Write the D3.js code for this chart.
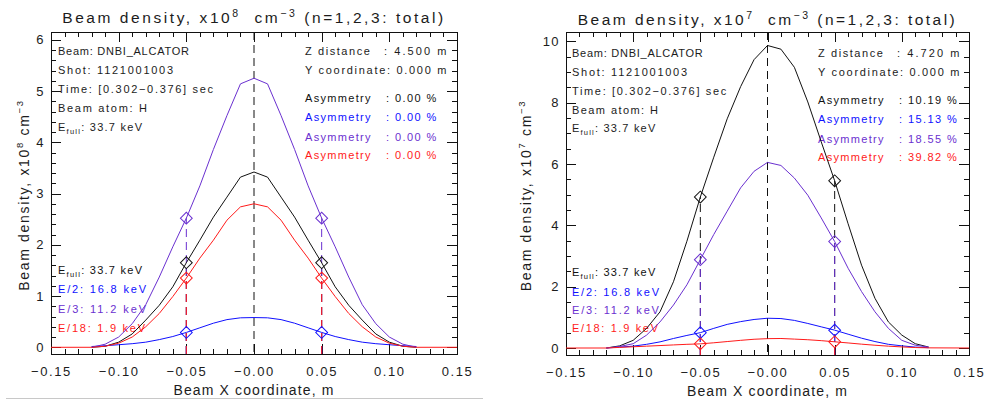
<!DOCTYPE html>
<html>
<head>
<meta charset="utf-8">
<script src="https://cdn.jsdelivr.net/npm/d3@7/dist/d3.min.js"></script>
<style>
  body { margin: 0; background: #fff; }
  svg { display: block; font-family: "Liberation Sans", Arial, sans-serif; }
  text { white-space: pre; }
</style>
</head>
<body>
<svg id="chart" width="991" height="403"></svg>
<script>
// Beam X coordinate samples (m); null where a component is not computed
const xPositions = [-0.15, -0.12, -0.11, -0.10, -0.09, -0.08, -0.07, -0.06, -0.05, -0.04, -0.03, -0.02, -0.01,
                    0.00, 0.01, 0.02, 0.03, 0.04, 0.05, 0.06, 0.07, 0.08, 0.09, 0.10, 0.11, 0.12, 0.15];

// Z = 4.500 m, density in 1e8 cm^-3
const leftFull       = [null, 0.00, 0.02, 0.10, 0.26, 0.53, 0.82, 1.18, 1.65, 2.09, 2.54, 2.93, 3.32, 3.42, 3.32, 2.93, 2.54, 2.09, 1.65, 1.18, 0.82, 0.53, 0.26, 0.10, 0.02, 0.00, null];
const leftHalf       = [null, 0.015, 0.03, 0.05, 0.07, 0.10, 0.15, 0.21, 0.29, 0.38, 0.47, 0.54, 0.575, 0.58, 0.575, 0.54, 0.47, 0.38, 0.29, 0.21, 0.15, 0.10, 0.07, 0.05, 0.03, 0.015, null];
const leftThird      = [null, 0.00, 0.06, 0.20, 0.46, 0.83, 1.37, 1.96, 2.52, 3.15, 3.86, 4.52, 5.14, 5.25, 5.14, 4.52, 3.86, 3.15, 2.52, 1.96, 1.37, 0.83, 0.46, 0.20, 0.06, 0.00, null];
const leftEighteenth = [0, 0.00, 0.02, 0.08, 0.20, 0.40, 0.66, 0.99, 1.35, 1.74, 2.09, 2.48, 2.74, 2.80, 2.74, 2.48, 2.09, 1.74, 1.35, 0.99, 0.66, 0.40, 0.20, 0.08, 0.02, 0.00, 0];

// Z = 4.720 m, density in 1e7 cm^-3
const rightFull       = [null, 0.00, 0.07, 0.25, 0.64, 1.18, 2.16, 3.48, 4.92, 6.22, 7.47, 8.52, 9.40, 9.86, 9.74, 9.15, 8.02, 6.72, 5.45, 4.05, 2.70, 1.62, 0.85, 0.42, 0.14, 0.03, null];
const rightHalf       = [null, 0.00, 0.03, 0.06, 0.12, 0.20, 0.31, 0.41, 0.50, 0.64, 0.77, 0.86, 0.93, 0.97, 0.96, 0.90, 0.80, 0.69, 0.582, 0.45, 0.32, 0.21, 0.12, 0.07, 0.03, 0.01, null];
const rightThird      = [null, 0.00, 0.05, 0.14, 0.42, 0.85, 1.40, 2.06, 2.88, 3.70, 4.46, 5.22, 5.76, 6.05, 5.95, 5.54, 4.98, 4.24, 3.47, 2.60, 1.84, 1.18, 0.64, 0.25, 0.09, 0.03, null];
const rightEighteenth = [0, 0.00, 0.02, 0.04, 0.06, 0.08, 0.10, 0.12, 0.135, 0.17, 0.21, 0.25, 0.285, 0.305, 0.31, 0.29, 0.27, 0.24, 0.202, 0.165, 0.125, 0.09, 0.06, 0.035, 0.015, 0.005, 0];

const seriesColors = ["#111111", "#1010ff", "#6a30d0", "#ff1a1a"];
const energyLabels = ["33.7 keV", "E/2: 16.8 keV", "E/3: 11.2 keV", "E/18: 1.9 keV"];
const leftAsymmetry  = ["0.00", "0.00", "0.00", "0.00"];
const rightAsymmetry = ["10.19", "15.13", "18.55", "39.82"];
const infoLines = ["Beam: DNBI_ALCATOR", "Shot: 1121001003", "Time: [0.302\u22120.376] sec", "Beam atom: H"];
const markerX = [-0.05, 0.05];

const xTicks = [-0.15, -0.10, -0.05, 0.00, 0.05, 0.10, 0.15];
const xTickLabels = ["\u22120.15", "\u22120.10", "\u22120.05", "\u22120.00", "0.05", "0.10", "0.15"];
const leftYTicks = [0, 1, 2, 3, 4, 5, 6];
const rightYTicks = [0, 2, 4, 6, 8, 10];

const TEXT = "#1c1c1c";
const svg = d3.select("#chart");

// stretch a text element to a given advance width via letter spacing
function fit(sel, width) {
  const node = sel.node();
  const n = node.textContent.length;
  const w = node.getComputedTextLength();
  sel.attr("letter-spacing", ((width - w) / Math.max(1, n - 1)).toFixed(2));
  return sel;
}

// text made of runs: kind 0 normal, 1 superscript, -1 subscript
function richText(parent, x, y, parts, size, smallSize, shift, fill) {
  const t = parent.append("text").attr("x", x).attr("y", y)
    .attr("font-size", size).attr("fill", fill || TEXT);
  let cur = 0;
  parts.forEach(([s, kind]) => {
    const target = kind === 1 ? -shift : kind === -1 ? shift * 0.45 : 0;
    t.append("tspan").attr("dy", target - cur)
      .attr("font-size", kind ? smallSize : size).text(s);
    cur = target;
  });
  return t;
}

function drawPanel(p) {
  const g = svg.append("g");
  const x = d3.scaleLinear().domain([-0.15, 0.15]).range([p.left, p.right]);
  const y = d3.scaleLinear().domain(p.yDomain).range([p.bottom, p.top]);
  const series = p.series;

  // title
  const title = richText(g, (p.left + p.right) / 2, p.titleY,
    [["Beam density, x10", 0], [p.exponent, 1], ["  cm", 0], ["\u22123", 1], [" (n=1,2,3: total)", 0]],
    15.5, 10.5, 6);
  title.attr("text-anchor", "middle");
  fit(title, p.titleWidth);

  // axes: majors with labels, minors, mirrored on top/right
  const minorX = d3.range(-15, 16).map(i => i / 100).filter(v => !xTicks.some(t => Math.abs(t - v) < 1e-9));
  const minorY = d3.range(Math.ceil(p.yDomain[0] / p.yMinor), Math.floor(p.yDomain[1] / p.yMinor) + 1)
    .map(i => +(i * p.yMinor).toFixed(6))
    .filter(v => !p.yTicks.some(t => Math.abs(t - v) < 1e-9));

  const axG = g.append("g").attr("shape-rendering", "crispEdges");
  const styleAxis = sel => {
    sel.select(".domain").remove();
    sel.selectAll(".tick line").attr("stroke", "#111");
    sel.selectAll("text").attr("fill", TEXT).attr("font-family", "Liberation Sans, Arial, sans-serif");
  };
  axG.append("g").attr("transform", `translate(0,${p.bottom})`)
    .call(d3.axisBottom(x).tickValues(xTicks).tickSize(-10).tickPadding(13)
      .tickFormat((d, i) => xTickLabels[i]))
    .call(styleAxis)
    .selectAll("text").attr("font-size", 13).attr("letter-spacing", 1.6);
  axG.append("g").attr("transform", `translate(0,${p.bottom})`)
    .call(d3.axisBottom(x).tickValues(minorX).tickSize(-5).tickFormat(""))
    .call(styleAxis);
  axG.append("g").attr("transform", `translate(0,${p.top})`)
    .call(d3.axisTop(x).tickValues(xTicks).tickSize(-10).tickFormat(""))
    .call(styleAxis);
  axG.append("g").attr("transform", `translate(0,${p.top})`)
    .call(d3.axisTop(x).tickValues(minorX).tickSize(-5).tickFormat(""))
    .call(styleAxis);
  axG.append("g").attr("transform", `translate(${p.left},0)`)
    .call(d3.axisLeft(y).tickValues(p.yTicks).tickSize(-10).tickPadding(6).tickFormat(d3.format("d")))
    .call(styleAxis)
    .selectAll("text").attr("font-size", 13).attr("letter-spacing", 1.4);
  axG.append("g").attr("transform", `translate(${p.left},0)`)
    .call(d3.axisLeft(y).tickValues(minorY).tickSize(-5).tickFormat(""))
    .call(styleAxis);
  axG.append("g").attr("transform", `translate(${p.right},0)`)
    .call(d3.axisRight(y).tickValues(p.yTicks).tickSize(-10).tickFormat(""))
    .call(styleAxis);
  axG.append("g").attr("transform", `translate(${p.right},0)`)
    .call(d3.axisRight(y).tickValues(minorY).tickSize(-5).tickFormat(""))
    .call(styleAxis);
  axG.append("rect")
    .attr("x", p.left).attr("y", p.top)
    .attr("width", p.right - p.left).attr("height", p.bottom - p.top)
    .attr("fill", "none").attr("stroke", "#111");

  // axis titles
  const xt = g.append("text").attr("x", (p.left + p.right) / 2).attr("y", p.xTitleY)
    .attr("text-anchor", "middle").attr("font-size", 14).attr("fill", TEXT)
    .text("Beam X coordinate, m");
  fit(xt, 160);
  const ytG = g.append("g").attr("transform", `translate(${p.yTitleX},${(p.top + p.bottom) / 2 + 2}) rotate(-90)`);
  const yt = richText(ytG, 0, 0,
    [["Beam density, x10", 0], [p.exponent, 1], [" cm", 0], ["\u22123", 1]], 14, 9.5, 6);
  yt.attr("text-anchor", "middle");
  fit(yt, 190);

  // info block
  infoLines.forEach((s, i) => {
    const t = g.append("text").attr("x", p.textX).attr("y", p.infoY[i])
      .attr("font-size", 11).attr("fill", TEXT).text(s);
    fit(t, p.infoWidths[i]);
  });
  const ef = richText(g, p.textX, p.infoY[4], [["E", 0], ["full", -1], [": " + energyLabels[0], 0]], 11, 7.5, 6);
  fit(ef, p.efWidth);

  // geometry block
  const zl = g.append("text").attr("x", p.rightTextX).attr("y", p.infoY[0])
    .attr("font-size", 11).attr("fill", TEXT).text("Z distance");
  fit(zl, 65);
  const zv = g.append("text").attr("x", p.rightTextX + 79).attr("y", p.infoY[0])
    .attr("font-size", 11).attr("fill", TEXT).text(": " + p.z + " m");
  fit(zv, 62.5);
  const yl = g.append("text").attr("x", p.rightTextX).attr("y", p.infoY[1])
    .attr("font-size", 11).attr("fill", TEXT).text("Y coordinate: 0.000 m");
  fit(yl, 141.5);

  p.asymmetry.forEach((a, i) => {
    const al = g.append("text").attr("x", p.rightTextX).attr("y", p.asymY[i])
      .attr("font-size", 11).attr("fill", seriesColors[i]).text("Asymmetry");
    fit(al, 65.5);
    g.append("text").attr("x", p.rightTextX + 81).attr("y", p.asymY[i])
      .attr("font-size", 11).attr("fill", seriesColors[i]).attr("letter-spacing", 1.4)
      .text(": " + a + " %");
  });

  // energy legend
  energyLabels.forEach((s, i) => {
    let t;
    if (i === 0) {
      t = richText(g, p.textX, p.legendY[i], [["E", 0], ["full", -1], [": " + s, 0]], 11, 7.5, 6, seriesColors[i]);
    } else {
      t = g.append("text").attr("x", p.textX).attr("y", p.legendY[i])
        .attr("font-size", 11).attr("fill", seriesColors[i]).text(s);
    }
    fit(t, p.legendWidths[i]);
  });

  // centre line
  g.append("line")
    .attr("x1", x(0)).attr("x2", x(0)).attr("y1", p.top).attr("y2", p.bottom)
    .attr("stroke", "#111").attr("stroke-dasharray", "8,5");

  const valueAt = (vals, xv) => vals[xPositions.findIndex(d => Math.abs(d - xv) < 1e-9)];

  // drop lines at the sampling chords
  series.forEach((vals, i) => {
    markerX.forEach(mx => {
      const v = valueAt(vals, mx);
      g.append("line")
        .attr("x1", x(mx)).attr("x2", x(mx))
        .attr("y1", y(p.yDomain[0])).attr("y2", y(v))
        .attr("stroke", seriesColors[i]).attr("stroke-dasharray", "8,5");
    });
  });

  // profiles
  const line = d3.line()
    .defined(d => d[1] != null)
    .x(d => x(d[0])).y(d => y(d[1]));
  series.forEach((vals, i) => {
    g.append("path")
      .datum(xPositions.map((xv, j) => [xv, vals[j]]))
      .attr("d", line)
      .attr("fill", "none").attr("stroke", seriesColors[i]).attr("stroke-width", 1);
  });

  // chord markers
  const diamond = d3.symbol().type(d3.symbolSquare).size(70);
  series.forEach((vals, i) => {
    markerX.forEach(mx => {
      const v = valueAt(vals, mx);
      g.append("path").attr("d", diamond)
        .attr("transform", `translate(${x(mx)},${y(v)}) rotate(45)`)
        .attr("fill", "none").attr("stroke", seriesColors[i]).attr("stroke-width", 1);
    });
  });
}

drawPanel({
  left: 51, right: 457, top: 32, bottom: 354,
  yDomain: [-0.131, 6.152], yTicks: leftYTicks, yMinor: 0.2,
  exponent: "8", z: "4.500",
  series: [leftFull, leftHalf, leftThird, leftEighteenth],
  asymmetry: leftAsymmetry,
  titleY: 22.5, titleWidth: 381, xTitleY: 395, yTitleX: 29,
  textX: 58, rightTextX: 305,
  infoY: [55, 74, 93.3, 112.3, 131.3], infoWidths: [131, 115, 155, 89], efWidth: 84,
  asymY: [102.3, 121.3, 140.7, 159],
  legendY: [274, 293.3, 313, 332], legendWidths: [84, 88, 88, 87]
});

drawPanel({
  left: 566, right: 969, top: 32, bottom: 355,
  yDomain: [-0.228, 10.30], yTicks: rightYTicks, yMinor: 0.5,
  exponent: "7", z: "4.720",
  series: [rightFull, rightHalf, rightThird, rightEighteenth],
  asymmetry: rightAsymmetry,
  titleY: 25, titleWidth: 377, xTitleY: 396, yTitleX: 531,
  textX: 572, rightTextX: 818,
  infoY: [57, 76, 94.7, 113.7, 132], infoWidths: [130.7, 115, 154.3, 86], efWidth: 83.3,
  asymY: [104, 122.7, 143, 161.3],
  legendY: [276.3, 295.7, 314, 332.3], legendWidths: [83.3, 87, 87, 86]
});

// panel separator
svg.append("line")
  .attr("x1", 6).attr("x2", 483).attr("y1", 398.5).attr("y2", 398.5)
  .attr("stroke", "#c8c8c8").attr("stroke-width", 1);
</script>
</body>
</html>
